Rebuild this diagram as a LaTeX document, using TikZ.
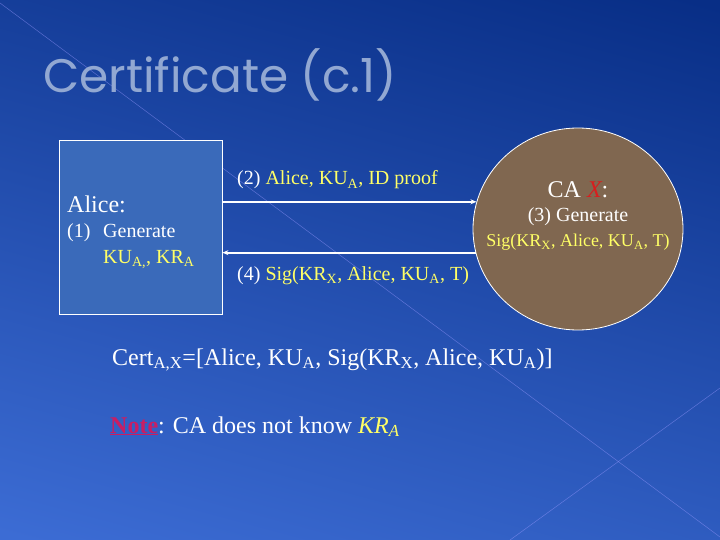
\documentclass[tikz,border=0pt]{standalone}
\usepackage{fontspec}
\setmainfont{Liberation Serif}
\newfontfamily\titlefont{Poppins}
\usetikzlibrary{positioning,calc,shapes.geometric,arrows.meta}
\definecolor{bgtop}{RGB}{8,46,134}
\definecolor{bgbot}{RGB}{60,108,212}
\definecolor{boxblue}{RGB}{58,106,186}
\definecolor{cabrown}{RGB}{128,103,80}
\definecolor{msgyellow}{RGB}{255,255,102}
\definecolor{titlegray}{RGB}{146,168,210}
\definecolor{notered}{RGB}{200,30,100}
\definecolor{xred}{RGB}{215,30,30}
\tikzset{
  alicebox/.style={rectangle,draw=white,line width=0.8pt,fill=boxblue,minimum width=163pt,minimum height=174pt,inner sep=0pt},
  cabox/.style={ellipse,draw=white,line width=0.8pt,fill=cabrown,minimum width=210pt,minimum height=202pt,inner sep=0pt},
  msg/.style={draw=white,line width=1.8pt,-{Stealth[length=6pt,width=5pt]}},
  txt/.style={anchor=base west,inner sep=0pt,text=white},
  ctxt/.style={anchor=base,inner sep=0pt,text=white}
}

\begin{document}
\begin{tikzpicture}[x=1pt,y=-1pt]
  \useasboundingbox (0,0) rectangle (720,540);
  \shade[top color=bgtop,bottom color=bgbot,shading angle=-15] (-60,-60) rectangle (780,600);
  % faint lines of the slide background
  \draw[white!60!blue,opacity=0.5,line width=0.5pt] (0,3) -- (720,537);
  \draw[white!60!blue,opacity=0.5,line width=0.5pt] (510,540) -- (720,388);

  \node[anchor=base west,inner sep=0pt,text=titlegray,font=\titlefont\fontsize{47}{54}\selectfont] (title) at (43,93) {Certificate (c.1)};

  \node[alicebox] (alice) at (140.5,227) {};
  \node[cabox] (ca) at (578,229) {};

  \node[txt,font=\fontsize{24}{28}\selectfont] (alicename) at (67,213) {Alice:};
  \node[txt,font=\fontsize{20}{24}\selectfont] (stepone) at (67,237) {(1)};
  \node[txt,font=\fontsize{20}{24}\selectfont] (gen) at (103,237) {Generate};
  \node[txt,text=msgyellow,font=\fontsize{20}{24}\selectfont] (keys) at (103,263) {KU\textsubscript{A,}, KR\textsubscript{A}};

  \node[ctxt,font=\fontsize{24}{28}\selectfont] (caname) at (578,197) {CA \textcolor{xred}{\itshape X}:};
  \node[ctxt,font=\fontsize{20}{24}\selectfont] (stepthree) at (578,222) {(3) Generate};
  \node[ctxt,text=msgyellow,font=\fontsize{18}{22}\selectfont] (sig) at (578,247) {Sig(KR\textsubscript{X}, Alice, KU\textsubscript{A}, T)};

  \draw[msg] (alice.east |- ca.165) -- (ca.165);
  \draw[msg] (ca.193) -- (alice.east |- ca.193);

  \node[txt,font=\fontsize{20}{24}\selectfont] (steptwo) at (237,185) {(2) \textcolor{msgyellow}{Alice, KU\textsubscript{A}, ID proof}};
  \node[txt,font=\fontsize{20}{24}\selectfont] (stepfour) at (237,280) {(4) \textcolor{msgyellow}{Sig(KR\textsubscript{X}, Alice, KU\textsubscript{A}, T)}};

  \node[txt,font=\fontsize{24}{28}\selectfont] (cert) at (112,365) {Cert\textsubscript{A,X}=[Alice, KU\textsubscript{A}, Sig(KR\textsubscript{X}, Alice, KU\textsubscript{A})]};
  \node[txt,font=\fontsize{24}{28}\selectfont] (note) at (110,433) {\textcolor{notered}{\textbf{\underline{Note}}}: CA does not know \textcolor{msgyellow}{\itshape KR\textsubscript{A}}};
\end{tikzpicture}
\end{document}
